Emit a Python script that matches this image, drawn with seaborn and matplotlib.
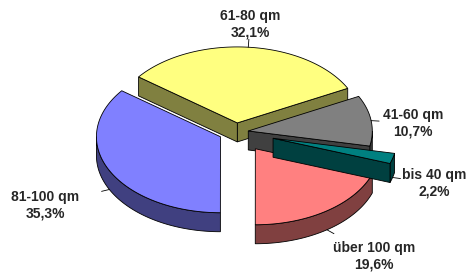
import numpy as np
import matplotlib.pyplot as plt
import seaborn as sns

# data, counter-clockwise from the right
labels = ["bis 40 qm", "41-60 qm", "61-80 qm", "81-100 qm", "über 100 qm"]
shares = [2.2, 10.7, 32.1, 35.3, 19.6]
pct_text = ["2,2%", "10,7%", "32,1%", "35,3%", "19,6%"]

# styling / layout
top_colors = sns.color_palette(["#008080", "#808080", "#FFFF80", "#8080FF", "#FF8080"])
side_colors = sns.color_palette(["#004040", "#404040", "#808040", "#404080", "#804040"])
explode = [0.31, 0.10, 0.12, 0.14, 0.27]
label_xy = [(434, 183), (413, 123), (250, 24), (45, 205), (374, 256)]
draw_order = [2, 1, 3, 4, 0]

sns.set_theme(style="white")
plt.rcParams["font.family"] = ["Liberation Sans", "DejaVu Sans"]

W, H = 469, 277
fig = plt.figure(figsize=(W / 100, H / 100), dpi=100)
ax = fig.add_axes([0, 0, 1, 1])
ax.set_xlim(0, W)
ax.set_ylim(H, 0)
ax.axis("off")

cx, cy, rx, ry, depth = 236, 132, 124, 76, 19
start = -19.4
sweep = np.array(shares) / sum(shares) * 360
bounds = start + np.concatenate([[0], np.cumsum(sweep)])
lw = 0.6


def rim(ox, oy, t):
    t = np.radians(t)
    return ox + rx * np.cos(t), oy - ry * np.sin(t)


for i in draw_order:
    a, b = bounds[i], bounds[i + 1]
    mid = np.radians((a + b) / 2)
    ox = cx + explode[i] * rx * np.cos(mid)
    oy = cy - explode[i] * ry * np.sin(mid)

    # outer wall, only the front half of the rim
    for k in (-360, 0, 360):
        lo, hi = max(a, 180 + k), min(b, 360 + k)
        if hi > lo:
            t = np.linspace(lo, hi, 60)
            xs, ys = rim(ox, oy, t)
            ax.fill(np.r_[xs, xs[::-1]], np.r_[ys, ys[::-1] + depth],
                    fc=side_colors[i], ec="black", lw=lw)

    # radial faces turned towards the viewer
    for ang, vis in ((a, np.cos(np.radians(a)) > 0.01),
                     (b, np.cos(np.radians(b)) < -0.01)):
        if vis:
            px, py = rim(ox, oy, ang)
            ax.fill([ox, px, px, ox], [oy, py, py + depth, oy + depth],
                    fc=side_colors[i], ec="black", lw=lw)

    # top face
    t = np.linspace(a, b, 120)
    xs, ys = rim(ox, oy, t)
    ax.fill(np.r_[ox, xs], np.r_[oy, ys], fc=top_colors[i], ec="black", lw=lw)

    # leader line and label
    px, py = rim(ox, oy, np.degrees(mid))
    if np.sin(mid) < 0:
        py += depth
    lx, ly = label_xy[i]
    d = np.hypot(lx - px, ly - py)
    ax.plot([px, px + 8 * (lx - px) / d], [py, py + 8 * (ly - py) / d],
            color="black", lw=0.6)
    ax.text(lx, ly, f"{labels[i]}\n{pct_text[i]}", ha="center", va="center",
            fontsize=10, fontweight="bold", linespacing=1.25)

fig.savefig("out.png", dpi=100)
